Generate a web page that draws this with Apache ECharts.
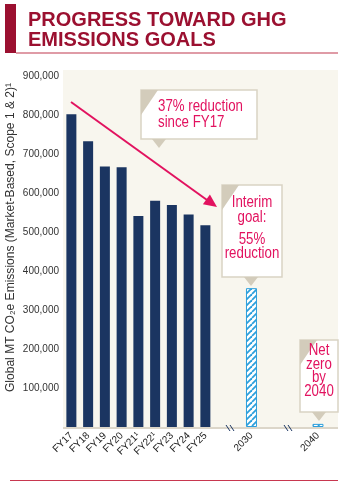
<!DOCTYPE html>
<html><head><meta charset="utf-8">
<script src="https://cdn.jsdelivr.net/npm/echarts@6/dist/echarts.min.js"></script>
<style>html,body{margin:0;padding:0;background:#fff}#c{width:343px;height:485px}</style>
</head><body><div id="c"></div>
<script>
// ---- data ----
const fyCategories = ['FY17','FY18','FY19','FY20','FY21¹','FY22¹','FY23','FY24','FY25'];
const fyEmissions = [802000, 733000, 668000, 666000, 541000, 580000, 569000, 545000, 517000];
const goalCategories = ['2030'];
const goalEmissions = [356000];
const netZeroCategories = ['2040'];
const netZeroEmissions = [8000];
const yMin = 0, yMax = 900000, yInterval = 100000;

const SANS = '"Liberation Sans",Arial,sans-serif';
const PINK = '#e2125f';
const NAVY = '#1b3561';
const BEIGE = '#d3ccbb';
const NARROW_SCALE = 0.83;

// hatch pattern
const pc = document.createElement('canvas');
pc.width = 6; pc.height = 6;
const g = pc.getContext('2d');
g.fillStyle = '#ffffff'; g.fillRect(0,0,6,6);
g.strokeStyle = '#2c9fdc'; g.lineWidth = 1.8;
for (let k = -1; k <= 1; k++) { g.beginPath(); g.moveTo(k*6, 6); g.lineTo(k*6+6, 0); g.stroke(); }
const hatch = { image: pc, repeat: 'repeat' };

// measure helper for fitting the y title
function measure(text, font){ const c = document.createElement('canvas').getContext('2d'); c.font = font; return c.measureText(text).width; }

const chart = echarts.init(document.getElementById('c'), null, {renderer:'canvas'});

const xAxisCommon = {
  type: 'category',
  axisLine: {show:false}, axisTick:{show:false},
  axisLabel: {rotate:45, fontSize:10, color:'#222', margin:7, fontFamily:SANS, interval:0}
};
const yAxisCommon = {
  type:'value', min:yMin, max:yMax, interval:yInterval,
  splitLine:{show:false}, axisLine:{show:false}, axisTick:{show:false}
};

function box(x,y,w,h,corner){
  const els = [{type:'rect', shape:{x:x,y:y,width:w,height:h}, style:{fill:'#fff', stroke:'#d9d3c4', lineWidth:1.5}, z:100}];
  if (corner) els.push({type:'polygon', shape:{points:[[x,y],[x+17,y],[x,y+25]]}, style:{fill:BEIGE}, z:101});
  return els;
}
function pointer(cx,y){
  return {type:'polygon', shape:{points:[[cx-7,y],[cx+7,y],[cx,y+9]]}, style:{fill:BEIGE}, z:101};
}
function ptext(t,x,y,align,size){
  return {type:'text', x:x, y:y, z:102, scaleX:NARROW_SCALE,
    style:{text:t, fill:PINK, font:(size||16)+'px '+SANS, textAlign:align||'center', textVerticalAlign:'middle'}};
}
function brk(x){
  return [
    {type:'line', shape:{x1:x,y1:425,x2:x+4,y2:431}, style:{stroke:NAVY, lineWidth:1}, z:50},
    {type:'line', shape:{x1:x+4,y1:425,x2:x+8,y2:431}, style:{stroke:NAVY, lineWidth:1}, z:50}
  ];
}

const yTitle = 'Global MT CO₂e Emissions (Market-Based, Scope 1 & 2)¹';
const yTitleFont = '13px ' + SANS;
const yTitleScale = 309 / measure(yTitle, yTitleFont);

const graphics = [
  // plot background
  {type:'rect', shape:{x:63,y:70,width:275,height:357}, style:{fill:'#f8f6ee'}, z:-10},
  {type:'rect', shape:{x:63,y:427,width:275,height:2}, style:{fill:'#dcd6c9'}, z:-9},
  // title
  {type:'rect', shape:{x:5,y:4,width:11,height:49}, style:{fill:'#9b1030'}},
  {type:'rect', shape:{x:16,y:52.5,width:322,height:1}, style:{fill:'#c0384f'}},
  {type:'text', x:28, y:20, style:{text:'PROGRESS TOWARD GHG', fill:'#9b1030', font:'bold 20px '+SANS, textVerticalAlign:'middle'}},
  {type:'text', x:28, y:40.5, style:{text:'EMISSIONS GOALS', fill:'#9b1030', font:'bold 20px '+SANS, textVerticalAlign:'middle'}},
  // bottom line
  {type:'rect', shape:{x:10,y:480,width:328,height:1}, style:{fill:'#c8374f'}},
  // y axis title
  {type:'text', x:10, y:237.5, rotation:Math.PI/2, scaleX:yTitleScale, style:{text:yTitle, fill:'#333', font:yTitleFont, textAlign:'center', textVerticalAlign:'middle'}},
  // arrow
  {type:'line', shape:{x1:71,y1:102,x2:207,y2:200}, style:{stroke:PINK, lineWidth:2}, z:60},
  {type:'polygon', shape:{points:[[217,207],[202.9,204.3],[209.9,194.5]]}, style:{fill:PINK}, z:60},
  // callout 1
  ...box(141,90,116,49,true), pointer(159,139),
  ptext('37% reduction',158,107,'left',16), ptext('since FY17',158,123,'left',16),
  // callout 2
  ...box(222,185,60,92,true), pointer(251,277),
  ptext('Interim',252,203), ptext('goal:',252,218), ptext('55%',252,240), ptext('reduction',252,254),
  // callout 3
  ...box(300,340,38,72,true), pointer(319,412),
  ptext('Net',319,351), ptext('zero',319,365), ptext('by',319,378), ptext('2040',319,392),
  // axis breaks
  ...brk(226), ...brk(284)
];

chart.setOption({
  animation:false,
  textStyle:{fontFamily:SANS},
  grid:[
    {left:63, top:76, width:150.75, height:351},
    {left:243.1, top:76, width:16.75, height:351},
    {left:309.6, top:76, width:16.75, height:351}
  ],
  xAxis:[
    Object.assign({gridIndex:0, data:fyCategories}, xAxisCommon),
    Object.assign({gridIndex:1, data:goalCategories}, xAxisCommon),
    Object.assign({gridIndex:2, data:netZeroCategories}, xAxisCommon)
  ],
  yAxis:[
    Object.assign({gridIndex:0, axisLabel:{fontSize:10, color:'#333', margin:4, fontFamily:SANS,
      formatter:v => v === 0 ? '' : v.toLocaleString('en-US')}}, yAxisCommon),
    Object.assign({gridIndex:1, axisLabel:{show:false}}, yAxisCommon),
    Object.assign({gridIndex:2, axisLabel:{show:false}}, yAxisCommon)
  ],
  series:[
    {type:'bar', xAxisIndex:0, yAxisIndex:0, data:fyEmissions, barWidth:10, itemStyle:{color:NAVY}},
    {type:'bar', xAxisIndex:1, yAxisIndex:1, data:goalEmissions, barWidth:11, itemStyle:{color:hatch, borderColor:'#2c9fdc', borderWidth:1}},
    {type:'bar', xAxisIndex:2, yAxisIndex:2, data:netZeroEmissions, barWidth:11, itemStyle:{color:hatch, borderColor:'#2c9fdc', borderWidth:1}}
  ],
  graphic: graphics
});
</script></body></html>
